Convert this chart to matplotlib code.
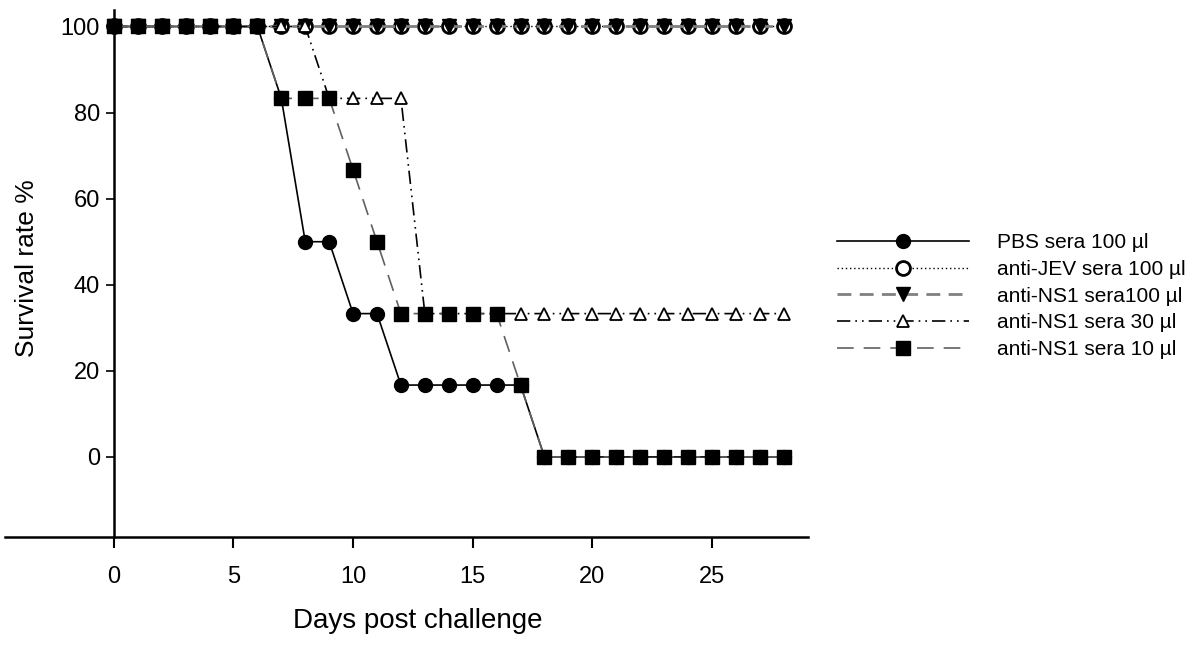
import numpy as np
import matplotlib.pyplot as plt

plt.rcParams['font.family'] = ['Liberation Sans', 'DejaVu Sans']

days = np.arange(0, 29)

pbs_100 = [100, 100, 100, 100, 100, 100, 100, 83.3, 50, 50, 33.3, 33.3, 16.7, 16.7, 16.7,
           16.7, 16.7, 16.7, 0, 0, 0, 0, 0, 0, 0, 0, 0, 0, 0]
jev_100 = [100] * 29
ns1_100 = [100] * 29
ns1_30 = [100, 100, 100, 100, 100, 100, 100, 100, 100, 83.3, 83.3, 83.3, 83.3, 33.3, 33.3,
          33.3, 33.3, 33.3, 33.3, 33.3, 33.3, 33.3, 33.3, 33.3, 33.3, 33.3, 33.3, 33.3, 33.3]
ns1_10 = [100, 100, 100, 100, 100, 100, 100, 83.3, 83.3, 83.3, 66.7, 50, 33.3, 33.3, 33.3,
          33.3, 33.3, 16.7, 0, 0, 0, 0, 0, 0, 0, 0, 0, 0, 0]

labels = ['PBS sera 100 µl', 'anti-JEV sera 100 µl', 'anti-NS1 sera100 µl',
          'anti-NS1 sera 30 µl', 'anti-NS1 sera 10 µl']

fig = plt.figure(figsize=(12, 6.47), dpi=100)
ax = fig.add_axes([0.004, 0.170, 0.669, 0.815])

ax.plot(days, pbs_100, color='black', lw=1.2, ls='-', marker='o', ms=10,
        mfc='black', mec='black', label=labels[0])
ax.plot(days, jev_100, color='black', lw=1.0, ls=(0, (1, 2)), marker='o', ms=10,
        mfc='white', mec='black', mew=2.0, label=labels[1])
ax.plot(days, ns1_100, color='#808080', lw=2.0, ls=(0, (5, 3)), marker='v', ms=10,
        mfc='black', mec='black', label=labels[2])
ax.plot(days, ns1_30, color='black', lw=1.2, ls=(0, (8, 3, 1, 3, 1, 3)), marker='^', ms=9,
        mfc='white', mec='black', mew=1.3, label=labels[3])
ax.plot(days, ns1_10, color='#606060', lw=1.2, ls=(0, (10, 6)), marker='s', ms=10,
        mfc='black', mec='black', label=labels[4])

ax.set_xlim(-4.56, 29.0)
ax.set_ylim(-18.6, 103.9)

ax.spines['top'].set_visible(False)
ax.spines['right'].set_visible(False)
ax.spines['left'].set_position(('data', 0))
ax.spines['left'].set_linewidth(1.8)
ax.spines['bottom'].set_linewidth(1.8)

ax.set_xticks([0, 5, 10, 15, 20, 25])
ax.set_yticks([0, 20, 40, 60, 80, 100])
ax.tick_params(axis='x', direction='out', length=8, width=1.5, pad=13, labelsize=17)
ax.tick_params(axis='y', direction='out', length=6, width=1.2, pad=4, labelsize=17)

ax.set_xlabel('Days post challenge', fontsize=20)
ax.xaxis.set_label_coords(0.514, -0.135)
ax.set_ylabel('Survival rate %', fontsize=19)
ax.yaxis.set_label_coords(0.043, 0.51)

leg = ax.legend(loc='center left', bbox_to_anchor=(1.013, 0.457), frameon=False,
                fontsize=15, handlelength=6.35, handletextpad=1.35, labelspacing=0.37)

fig.savefig('out.png', dpi=100)
